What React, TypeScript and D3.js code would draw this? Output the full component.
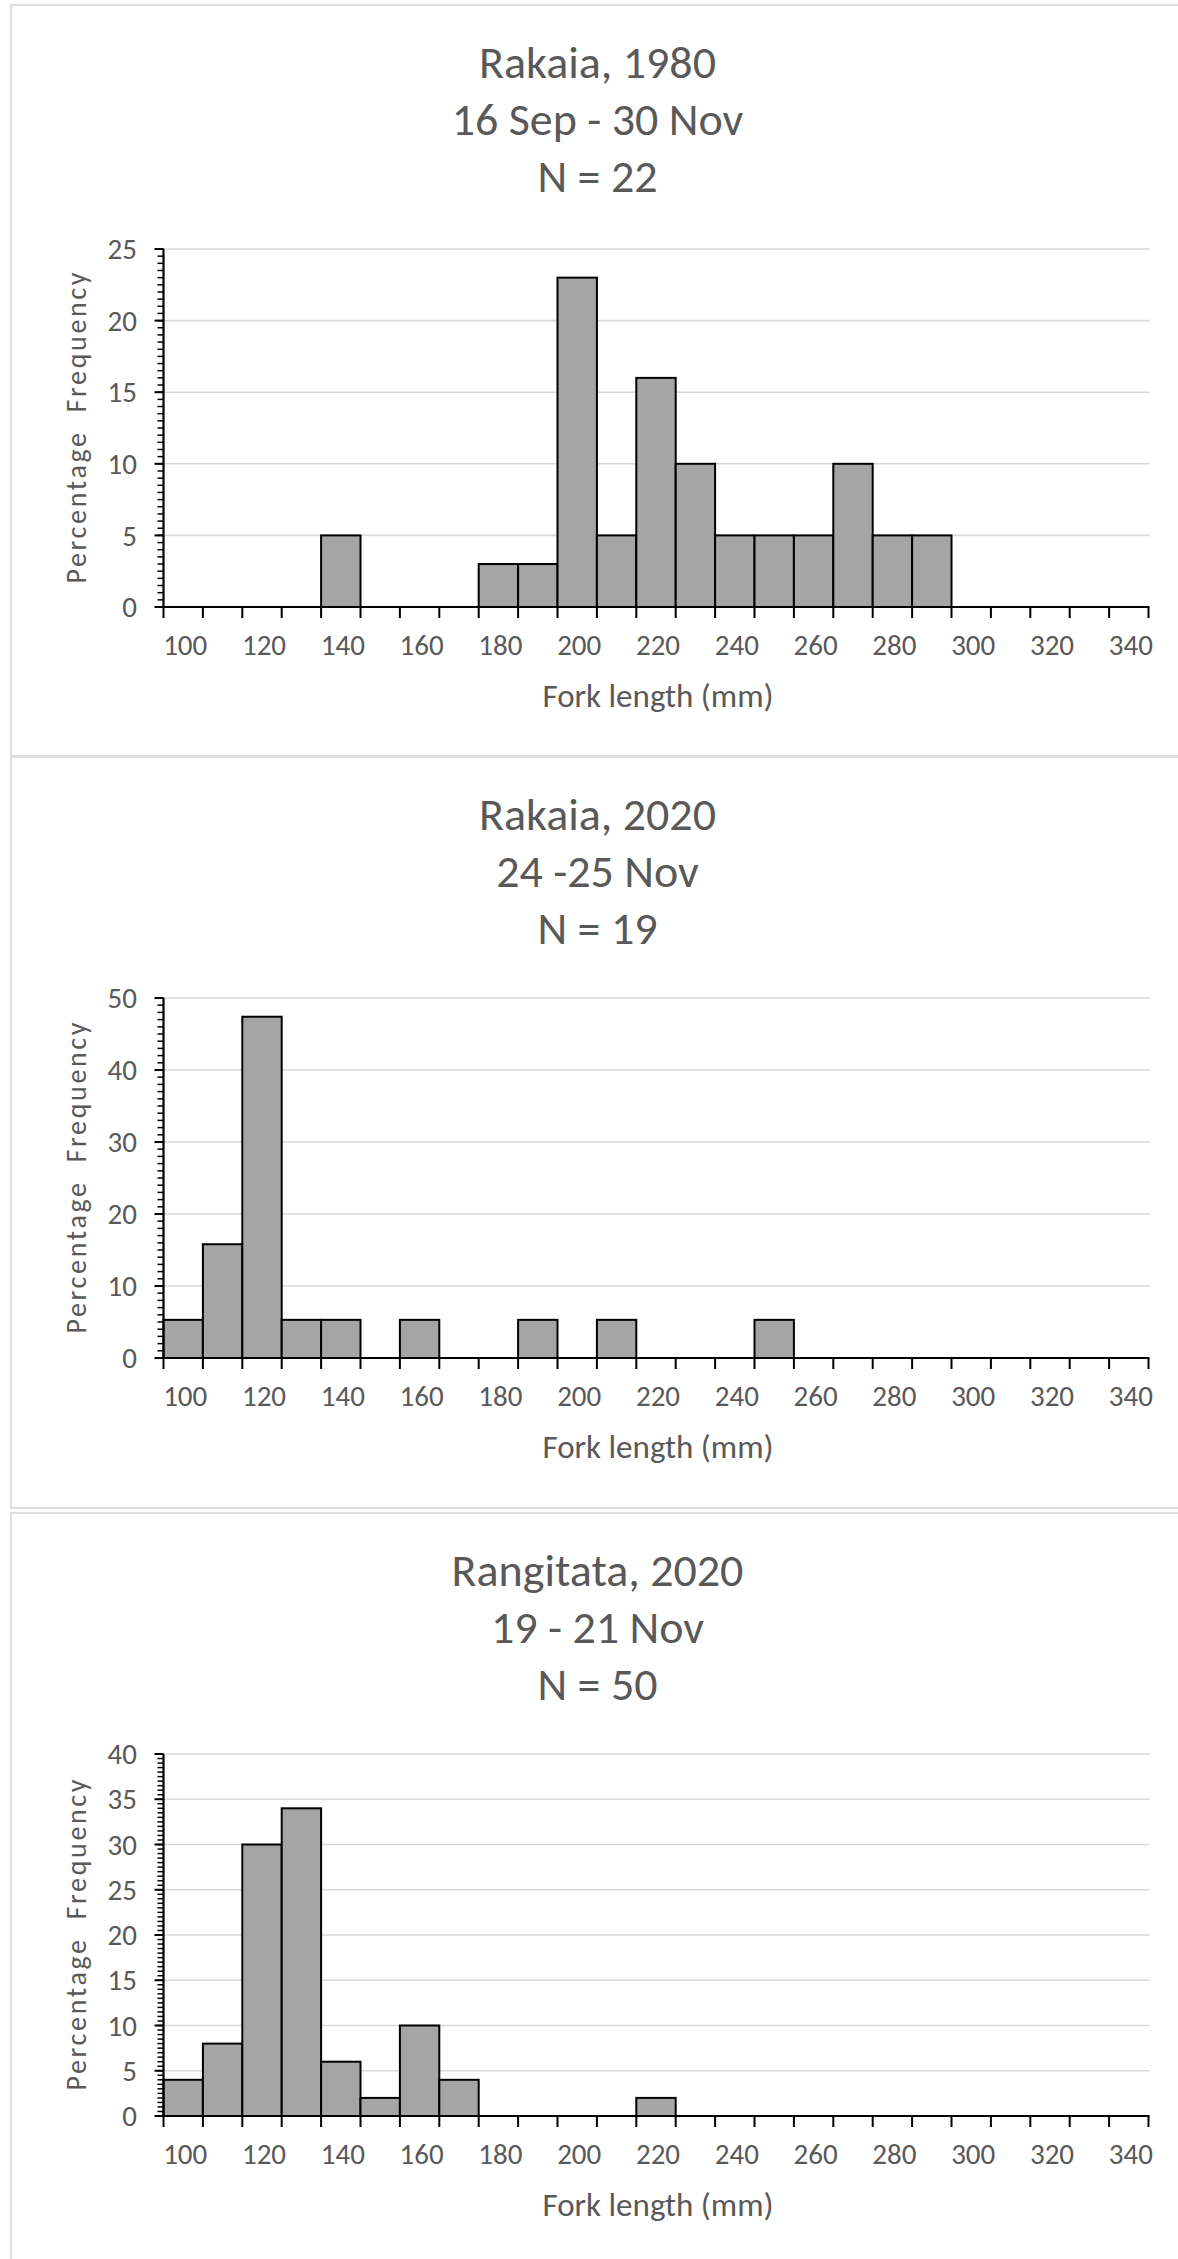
import React from "react";
import * as d3 from "d3";

// ---- Data ----
const binStarts = [100, 110, 120, 130, 140, 150, 160, 170, 180, 190, 200, 210, 220, 230, 240, 250, 260, 270, 280, 290, 300, 310, 320, 330, 340];
const xTickLabels = [100, 120, 140, 160, 180, 200, 220, 240, 260, 280, 300, 320, 340];

const rakaia1980 = [0, 0, 0, 0, 5, 0, 0, 0, 3, 3, 23, 5, 16, 10, 5, 5, 5, 10, 5, 5, 0, 0, 0, 0, 0];
const rakaia2020 = [5.3, 15.8, 47.4, 5.3, 5.3, 0, 5.3, 0, 0, 5.3, 0, 5.3, 0, 0, 0, 5.3, 0, 0, 0, 0, 0, 0, 0, 0, 0];
const rangitata2020 = [4, 8, 30, 34, 6, 2, 10, 4, 0, 0, 0, 0, 2, 0, 0, 0, 0, 0, 0, 0, 0, 0, 0, 0, 0];

const titles1 = ["Rakaia, 1980", "16 Sep - 30 Nov", "N = 22"];
const titles2 = ["Rakaia, 2020", "24 -25 Nov", "N = 19"];
const titles3 = ["Rangitata, 2020", "19 - 21 Nov", "N = 50"];

const yMaxes = [25, 50, 40];
const yMajorSteps = [5, 10, 5];
const yMinorSteps = [0.5, 1, 0.5];

const xAxisTitle = "Fork length (mm)";
const yAxisTitle = "Percentage  Frequency";

// ---- Layout ----
const W = 1178;
const H = 2259;
const panelTops = [5, 757, 1513];
const panelH = 751;
const plotTops = [249, 998, 1754];
const plotBottoms = [607, 1358, 2116];
const plotLeft = 163.5;
const plotRight = 1148.5;
const titleCx = 597.5;
const FONT = "Carlito, Lato, 'Open Sans', sans-serif";
const TEXT = "#595959";

type PanelProps = {
  idx: number;
  values: number[];
  titles: string[];
};

function Panel({ idx, values, titles }: PanelProps) {
  const top = panelTops[idx];
  const pTop = plotTops[idx];
  const pBot = plotBottoms[idx];
  const yMax = yMaxes[idx];
  const x = d3
    .scaleBand<number>()
    .domain(binStarts)
    .range([plotLeft, plotRight])
    .paddingInner(0)
    .paddingOuter(0);
  const y = d3.scaleLinear().domain([0, yMax]).range([pBot, pTop]);
  const bw = x.bandwidth();

  const majors = d3.range(0, yMax + 1e-9, yMajorSteps[idx]);
  const minors = d3.range(0, yMax + 1e-9, yMinorSteps[idx]);
  const boundaries = binStarts.map((b) => x(b) as number).concat([plotRight]);

  return (
    <g>
      <rect x={11} y={top} width={1200} height={panelH} fill="white" stroke="#dedede" strokeWidth={2.2} />
      {titles.map((t, i) => (
        <text
          key={i}
          x={titleCx}
          y={top + 73 + i * 57}
          textAnchor="middle"
          fontFamily={FONT}
          fontSize={46}
          fill={TEXT}
        >
          {t}
        </text>
      ))}
      {majors
        .filter((m) => m > 0)
        .map((m) => (
          <line key={"g" + m} x1={plotLeft} x2={plotRight + 1} y1={y(m)} y2={y(m)} stroke="#d9d9d9" strokeWidth={1.6} />
        ))}
      {values.map((v, i) =>
        v > 0 ? (
          <rect
            key={"b" + i}
            x={x(binStarts[i]) as number}
            y={y(v)}
            width={bw}
            height={y(0) - y(v)}
            fill="#a5a5a5"
            stroke="#000"
            strokeWidth={2}
          />
        ) : null
      )}
      <line x1={plotLeft} x2={plotRight + 1} y1={y(0)} y2={y(0)} stroke="#000" strokeWidth={2.2} />
      {boundaries.map((bx, i) => (
        <line key={"xt" + i} x1={bx} x2={bx} y1={y(0)} y2={y(0) + 11} stroke="#000" strokeWidth={2} />
      ))}
      {xTickLabels.map((l) => (
        <text
          key={"xl" + l}
          x={(x(l) as number) + bw / 2 + 2}
          y={y(0) + 48}
          textAnchor="middle"
          fontFamily={FONT}
          fontSize={29}
          fill={TEXT}
        >
          {l}
        </text>
      ))}
      <line x1={plotLeft} x2={plotLeft} y1={pTop} y2={pBot} stroke="#000" strokeWidth={2.2} />
      {minors.map((m, i) => (
        <line key={"ym" + i} x1={plotLeft - 6} x2={plotLeft} y1={y(m)} y2={y(m)} stroke="#000" strokeWidth={1.5} />
      ))}
      {majors.map((m) => (
        <line key={"yM" + m} x1={plotLeft - 9} x2={plotLeft} y1={y(m)} y2={y(m)} stroke="#000" strokeWidth={2} />
      ))}
      {majors.map((m) => (
        <text
          key={"yl" + m}
          x={137}
          y={y(m)}
          dy="0.35em"
          textAnchor="end"
          fontFamily={FONT}
          fontSize={29}
          fill={TEXT}
        >
          {m}
        </text>
      ))}
      <text
        x={(plotLeft + plotRight) / 2 + 2}
        y={y(0) + 100}
        textAnchor="middle"
        fontFamily={FONT}
        fontSize={33}
        fill={TEXT}
      >
        {xAxisTitle}
      </text>
      <text
        transform={`translate(86, ${(pTop + pBot) / 2}) rotate(-90)`}
        textAnchor="middle"
        fontFamily={FONT}
        fontSize={28}
        fill={TEXT}
        textLength={311}
        lengthAdjust="spacing"
        style={{ whiteSpace: "pre" }}
      >
        {yAxisTitle}
      </text>
    </g>
  );
}

export default function App() {
  return (
    <div style={{ position: "absolute", left: 0, top: 0 }}>
      <svg width={W} height={H} style={{ display: "block", background: "white" }}>
        <rect x={0} y={0} width={W} height={H} fill="white" />
        <Panel idx={0} values={rakaia1980} titles={titles1} />
        <Panel idx={1} values={rakaia2020} titles={titles2} />
        <Panel idx={2} values={rangitata2020} titles={titles3} />
      </svg>
    </div>
  );
}
